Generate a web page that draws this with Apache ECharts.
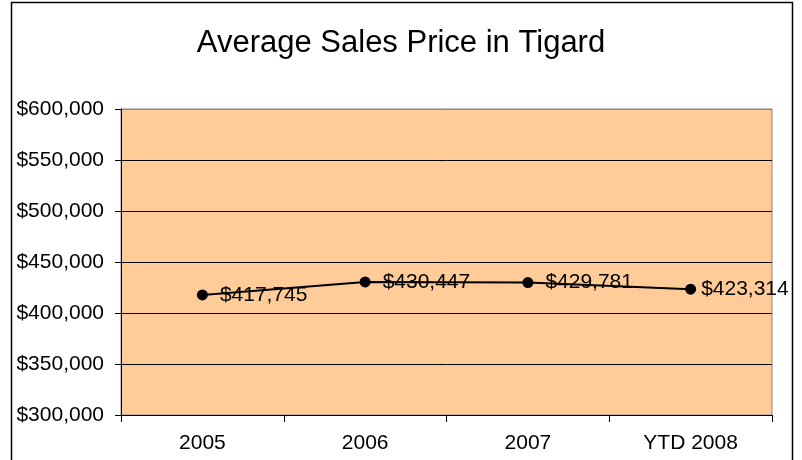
<!DOCTYPE html>
<html><head><meta charset="utf-8">
<script src="https://cdn.jsdelivr.net/npm/echarts@6/dist/echarts.min.js"></script>
<style>html,body{margin:0;padding:0;background:#fff}#c{width:802px;height:460px}</style>
</head><body><div id="c"></div>
<script>
const titleText = 'Average Sales Price in Tigard';
const categories = ['2005', '2006', '2007', 'YTD 2008'];
const prices = [417745, 430447, 429781, 423314];

const chart = echarts.init(document.getElementById('c'), null, {renderer: 'canvas'});
const fmt = v => '$' + Math.round(v).toLocaleString('en-US');
const font = 'Liberation Sans, Arial, Helvetica, sans-serif';
const seriesData = prices.map((v, i) => i === prices.length - 1
  ? {value: v, label: {distance: 5}}
  : {value: v});
chart.setOption({
  animation: false,
  backgroundColor: '#fff',
  graphic: [{
    type: 'rect', z: -1, silent: true,
    shape: {x: 11.5, y: 2.5, width: 781, height: 470},
    style: {fill: 'none', stroke: '#000', lineWidth: 1.5}
  }],
  title: {
    text: titleText, left: 'center', top: 23,
    textStyle: {fontFamily: font, fontSize: 31, fontWeight: 'normal', color: '#000'}
  },
  grid: {
    left: 121, top: 109, right: 30, bottom: 45,
    show: true, backgroundColor: '#FFCC99', borderColor: '#888', borderWidth: 1
  },
  xAxis: {
    type: 'category', data: categories, boundaryGap: true,
    axisLine: {lineStyle: {color: '#000', width: 1}},
    axisTick: {show: true, inside: false, length: 7, lineStyle: {color: '#000'}},
    axisLabel: {margin: 18, color: '#000', fontSize: 21, fontFamily: font},
    splitLine: {show: false}
  },
  yAxis: {
    type: 'value', min: 300000, max: 600000, interval: 50000,
    axisLine: {show: true, lineStyle: {color: '#000', width: 1}},
    axisTick: {show: true, inside: false, length: 6, lineStyle: {color: '#000'}},
    axisLabel: {margin: 17, color: '#000', fontSize: 21, fontFamily: font, formatter: fmt},
    splitLine: {show: true, lineStyle: {color: ['#000','#000','#000','#000','#000','#000','#888'], width: 1}}
  },
  series: [{
    type: 'line', data: seriesData,
    lineStyle: {color: '#000', width: 2},
    itemStyle: {color: '#000'},
    symbol: 'circle', symbolSize: 11,
    label: {
      show: true, position: 'right', distance: 12,
      color: '#000', fontSize: 21, fontFamily: font,
      formatter: p => fmt(p.value)
    }
  }]
});
</script></body></html>
